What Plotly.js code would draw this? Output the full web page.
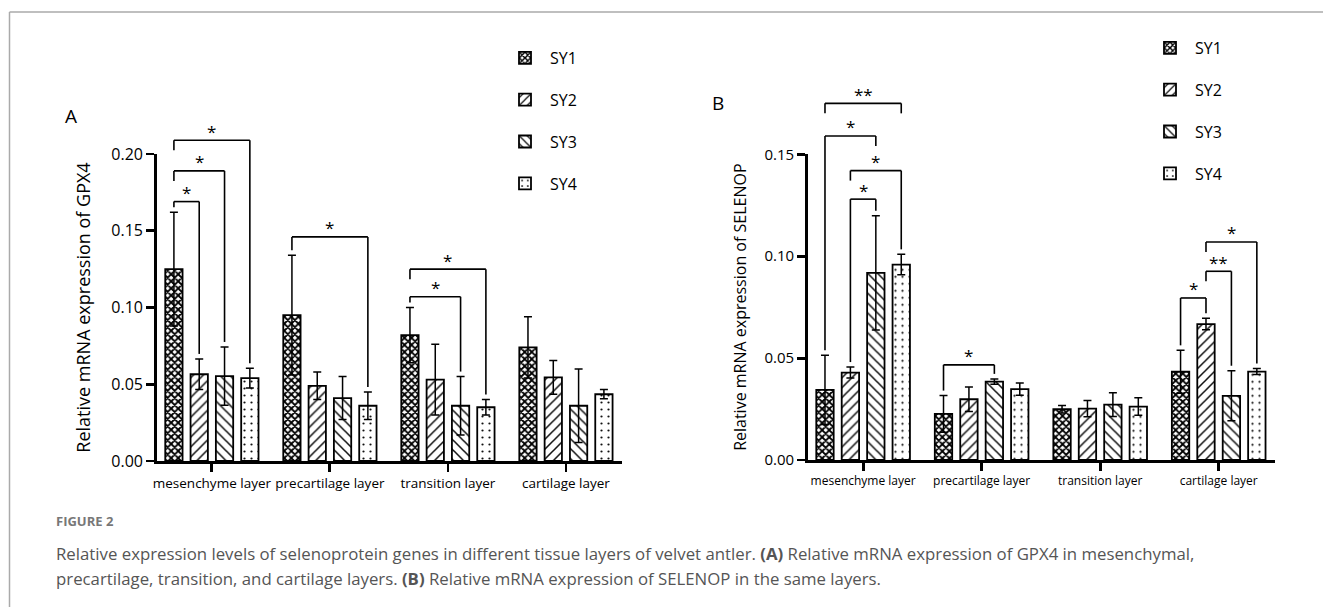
<!DOCTYPE html>
<html>
<head>
<meta charset="utf-8">
<script src="https://cdn.plot.ly/plotly-3.0.1.min.js"></script>
<style>html,body{margin:0;padding:0;background:#fff;}#chart{width:1323px;height:607px;}</style>
</head>
<body>
<div id="chart"></div>
<script>
// ---------------- data ----------------
const categories = ['mesenchyme layer', 'precartilage layer', 'transition layer', 'cartilage layer'];
const seriesNames = ['SY1', 'SY2', 'SY3', 'SY4'];

// Panel A: GPX4
const gpx4_SY1 = [0.125, 0.095, 0.082, 0.074];
const gpx4_SY2 = [0.0565, 0.049, 0.053, 0.0545];
const gpx4_SY3 = [0.0553, 0.041, 0.036, 0.036];
const gpx4_SY4 = [0.054, 0.036, 0.035, 0.0435];
const gpx4_SY1_err = [0.037, 0.039, 0.018, 0.020];
const gpx4_SY2_err = [0.010, 0.009, 0.023, 0.011];
const gpx4_SY3_err = [0.019, 0.014, 0.019, 0.024];
const gpx4_SY4_err = [0.0065, 0.009, 0.005, 0.003];

// Panel B: SELENOP
const selenop_SY1 = [0.0344, 0.0226, 0.0249, 0.0433];
const selenop_SY2 = [0.0429, 0.0298, 0.0252, 0.0667];
const selenop_SY3 = [0.0918, 0.0385, 0.0272, 0.0315];
const selenop_SY4 = [0.0959, 0.0348, 0.0262, 0.0434];
const selenop_SY1_err = [0.017, 0.009, 0.0018, 0.0105];
const selenop_SY2_err = [0.0027, 0.006, 0.004, 0.0028];
const selenop_SY3_err = [0.028, 0.0013, 0.0058, 0.0123];
const selenop_SY4_err = [0.005, 0.003, 0.0043, 0.0015];

// significance comparisons: [category index, series from, series to, bracket level, label]
const gpx4Sig = [
  [0, 0, 1, 0.169, '*'],
  [0, 0, 2, 0.189, '*'],
  [0, 0, 3, 0.209, '*'],
  [1, 0, 3, 0.146, '*'],
  [2, 0, 2, 0.107, '*'],
  [2, 0, 3, 0.125, '*']
];
const selenopSig = [
  [0, 0, 3, 0.175, '**'],
  [0, 0, 2, 0.159, '*'],
  [0, 1, 3, 0.142, '*'],
  [0, 1, 2, 0.128, '*'],
  [1, 0, 2, 0.0467, '*'],
  [3, 0, 1, 0.0795, '*'],
  [3, 1, 2, 0.0926, '**'],
  [3, 1, 3, 0.107, '*']
];

const yTitleA = 'Relative mRNA expression of GPX4';
const yTitleB = 'Relative mRNA expression of SELENOP';
const captionHead = 'FIGURE 2';
const captionLine1 = 'Relative expression levels of selenoprotein genes in different tissue layers of velvet antler. <b>(A)</b> Relative mRNA expression of GPX4 in mesenchymal,';
const captionLine2 = 'precartilage, transition, and cartilage layers. <b>(B)</b> Relative mRNA expression of SELENOP in the same layers.';

// ---------------- styling / geometry ----------------
const W = 1323, H = 607;
const FONT = 'Open Sans, Noto Sans, DejaVu Sans, sans-serif';
const BARGAP = 0.142, BARGROUPGAP = 0.316;
const XRANGE = [-0.465, 3.475];
const panA = {x0: 157, x1: 622, yTop: 154, yBot: 461, ymax: 0.20};
const panB = {x0: 808, x1: 1275, yTop: 154.3, yBot: 460, ymax: 0.15};

const patterns = [
  {shape: 'x', size: 5, solidity: 0.6, fgcolor: '#000', bgcolor: '#fff', fillmode: 'replace'},
  {shape: '/', size: 7, solidity: 0.22, fgcolor: '#111', bgcolor: '#fff', fillmode: 'replace'},
  {shape: '\\', size: 7, solidity: 0.22, fgcolor: '#111', bgcolor: '#fff', fillmode: 'replace'},
  {shape: '.', size: 7, solidity: 0.08, fgcolor: '#111', bgcolor: '#fff', fillmode: 'replace'}
];

const gpx4Vals = [gpx4_SY1, gpx4_SY2, gpx4_SY3, gpx4_SY4];
const gpx4Errs = [gpx4_SY1_err, gpx4_SY2_err, gpx4_SY3_err, gpx4_SY4_err];
const selVals = [selenop_SY1, selenop_SY2, selenop_SY3, selenop_SY4];
const selErrs = [selenop_SY1_err, selenop_SY2_err, selenop_SY3_err, selenop_SY4_err];

function makeTraces(vals, errs, xa, ya, legendId) {
  return vals.map((v, i) => ({
    type: 'bar',
    name: seriesNames[i],
    x: categories,
    y: v,
    xaxis: xa, yaxis: ya,
    legend: legendId,
    legendgroup: legendId + seriesNames[i],
    marker: {color: '#fff', pattern: patterns[i], line: {color: '#000', width: 1.8}},
    error_y: {type: 'data', array: errs[i], symmetric: true, visible: true, color: '#000', thickness: 1.5, width: 4}
  }));
}

const traces = [].concat(
  makeTraces(gpx4Vals, gpx4Errs, 'x', 'y', 'legend'),
  makeTraces(selVals, selErrs, 'x2', 'y2', 'legend2')
);

function dom(p) {
  return {
    x: [p.x0 / W, p.x1 / W],
    y: [1 - p.yBot / H, 1 - p.yTop / H]
  };
}
const dA = dom(panA), dB = dom(panB);

function paperY(p, v) { // data value -> paper y
  const py = p.yBot - (v / p.ymax) * (p.yBot - p.yTop);
  return 1 - py / H;
}

const slot = (1 - BARGAP) / 4;
function barX(g, k) { return g + (k - 1.5) * slot; }

const shapes = [];
const annotations = [];

function addBrackets(sig, vals, errs, p, xref) {
  const SHORT = 10 / H, PAD = 5 / H, GAP = 6 / H;
  sig.forEach((s) => {
    const [g, a, b, level, label] = s;
    const yLine = paperY(p, level);
    const legEnd = (k) => {
      // obstacles: error bar top of bar k, or lower brackets spanning bar k
      let errTop = paperY(p, vals[k][g] + errs[k][g]);
      let brk = -Infinity;
      sig.forEach((o) => {
        if (o === s || o[0] !== g) return;
        if (o[3] < level && o[1] <= k && o[2] >= k) brk = Math.max(brk, paperY(p, o[3]));
      });
      if (brk > errTop) return Math.max(yLine - SHORT, brk + GAP);
      return errTop + PAD;
    };
    const xa = barX(g, a), xb = barX(g, b);
    const ln = {type: 'line', xref: xref, yref: 'paper', line: {color: '#000', width: 1.6}, layer: 'above'};
    shapes.push(Object.assign({}, ln, {x0: xa, x1: xa, y0: legEnd(a), y1: yLine}));
    shapes.push(Object.assign({}, ln, {x0: xa, x1: xb, y0: yLine, y1: yLine}));
    shapes.push(Object.assign({}, ln, {x0: xb, x1: xb, y0: legEnd(b), y1: yLine}));
    annotations.push({
      xref: xref, yref: 'paper', x: (xa + xb) / 2, y: yLine + 9 / H,
      text: label, showarrow: false, xanchor: 'center', yanchor: 'middle',
      font: {family: FONT, size: 17, color: '#000'}
    });
  });
}
addBrackets(gpx4Sig, gpx4Vals, gpx4Errs, panA, 'x');
addBrackets(selenopSig, selVals, selErrs, panB, 'x2');

// figure frame
shapes.push({type: 'line', xref: 'paper', yref: 'paper', x0: 9.5 / W, x1: 1, y0: 1 - 12 / H, y1: 1 - 12 / H, line: {color: '#aaa', width: 1.5}});
shapes.push({type: 'line', xref: 'paper', yref: 'paper', x0: 9.5 / W, x1: 9.5 / W, y0: 0, y1: 1 - 12 / H, line: {color: '#aaa', width: 1.5}});

// panel letters
annotations.push({xref: 'paper', yref: 'paper', x: 71 / W, y: 1 - 116 / H, text: 'A', showarrow: false,
  xanchor: 'center', yanchor: 'middle', font: {family: FONT, size: 19, color: '#000'}});
annotations.push({xref: 'paper', yref: 'paper', x: 718 / W, y: 1 - 103 / H, text: 'B', showarrow: false,
  xanchor: 'center', yanchor: 'middle', font: {family: FONT, size: 19, color: '#000'}});

// caption
annotations.push({xref: 'paper', yref: 'paper', x: 54 / W, y: 1 - 521 / H, text: '<b>' + captionHead + '</b>', showarrow: false,
  xanchor: 'left', yanchor: 'middle', font: {family: FONT, size: 13, color: '#777'}});
annotations.push({xref: 'paper', yref: 'paper', x: 54 / W, y: 1 - 553 / H, text: captionLine1, showarrow: false,
  xanchor: 'left', yanchor: 'middle', font: {family: FONT, size: 16.8, color: '#555'}});
annotations.push({xref: 'paper', yref: 'paper', x: 54 / W, y: 1 - 578 / H, text: captionLine2, showarrow: false,
  xanchor: 'left', yanchor: 'middle', font: {family: FONT, size: 16.8, color: '#555'}});

function xAxis(d, anchor, fs) {
  return {
    domain: d.x, anchor: anchor, type: 'category', range: XRANGE,
    showline: true, linecolor: '#000', linewidth: 2.8, mirror: false,
    ticks: 'outside', ticklen: 8, tickwidth: 2.8, tickcolor: '#000',
    showgrid: false, zeroline: false,
    tickfont: {family: FONT, size: fs, color: '#000'}, fixedrange: true
  };
}
function yAxis(d, anchor, p, tickv, fs, title, tfs, standoff) {
  return {
    domain: d.y, anchor: anchor, range: [0, p.ymax],
    tickvals: tickv, tickformat: '.2f',
    showline: true, linecolor: '#000', linewidth: 2.8,
    ticks: 'outside', ticklen: 8, tickwidth: 2.8, tickcolor: '#000',
    showgrid: false, zeroline: false,
    tickfont: {family: FONT, size: fs, color: '#000'},
    title: {text: title, font: {family: FONT, size: tfs, color: '#000'}, standoff: standoff},
    fixedrange: true
  };
}

const layout = {
  width: W, height: H,
  margin: {l: 0, r: 0, t: 0, b: 0},
  paper_bgcolor: '#fff', plot_bgcolor: 'rgba(0,0,0,0)',
  barmode: 'group', bargap: BARGAP, bargroupgap: BARGROUPGAP,
  font: {family: FONT, color: '#000'},
  xaxis: xAxis(dA, 'y', 13.5),
  yaxis: yAxis(dA, 'x', panA, [0, 0.05, 0.10, 0.15, 0.20], 16, yTitleA, 18, 16),
  xaxis2: xAxis(dB, 'y2', 12),
  yaxis2: yAxis(dB, 'x2', panB, [0, 0.05, 0.10, 0.15], 15, yTitleB, 16, 14),
  legend: {x: 500 / W, y: 1 - 41 / H, xanchor: 'left', yanchor: 'top', orientation: 'v',
    font: {family: FONT, size: 16, color: '#000'}, tracegroupgap: 18, bgcolor: 'rgba(0,0,0,0)', itemwidth: 40},
  legend2: {x: 1145 / W, y: 1 - 31 / H, xanchor: 'left', yanchor: 'top', orientation: 'v',
    font: {family: FONT, size: 16, color: '#000'}, tracegroupgap: 18, bgcolor: 'rgba(0,0,0,0)', itemwidth: 40},
  showlegend: true,
  shapes: shapes,
  annotations: annotations
};

Plotly.newPlot('chart', traces, layout, {displayModeBar: false, staticPlot: true});
</script>
</body>
</html>
